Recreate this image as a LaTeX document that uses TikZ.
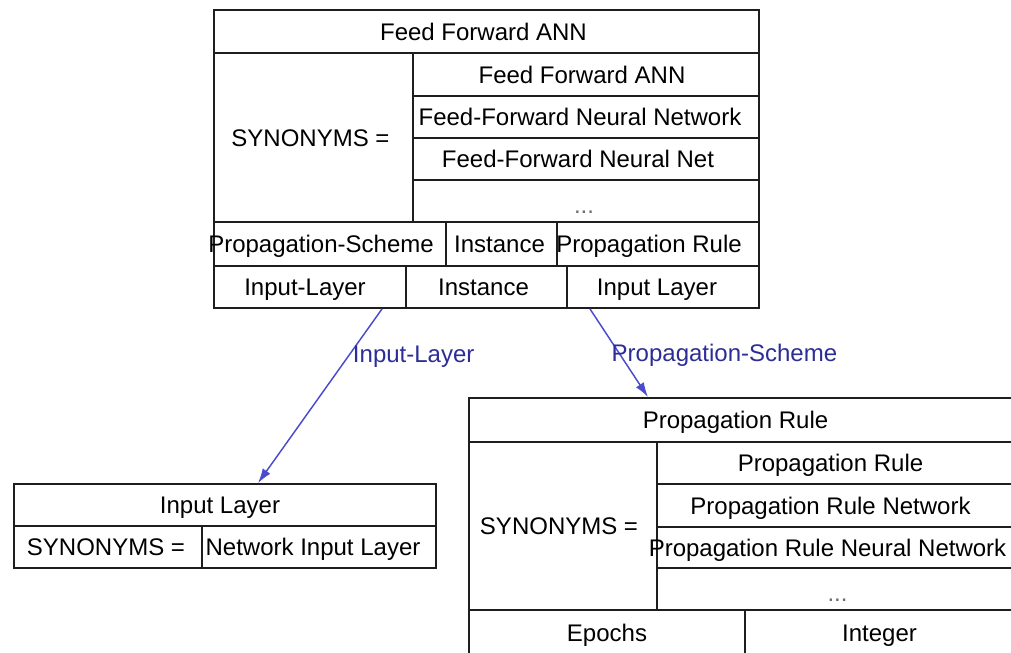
\documentclass[tikz,border=0pt]{standalone}
\usepackage{fontspec}
\setmainfont{Liberation Sans}
\usetikzlibrary{arrows.meta}

\definecolor{framecol}{RGB}{30,30,30}
\definecolor{linkcol}{RGB}{75,75,205}
\definecolor{linklabel}{RGB}{45,45,150}
\definecolor{dotcol}{RGB}{110,110,110}

% one pixel of the drawing grid
\newdimen\pxu
\pxu=0.75pt

% table cell: name, left, top, right, bottom (pixels), text offset (pixels), text
\newcommand{\tcell}[7]{%
  \node[cell, minimum width={(#4-#2)*0.75pt}, minimum height={(#5-#3)*0.75pt}]
    (#1) at ({(#2+#4)/2},{(#3+#5)/2}) {\makebox[0pt]{\kern#6\pxu #7\kern-#6\pxu}};}

% continuation mark in the synonym lists
\newcommand{\moredots}{\raisebox{-4\pxu}[0pt][0pt]{\textcolor{dotcol}{...}}}

\tikzset{
  cell/.style={draw=framecol, line width=1.4pt, rectangle, inner sep=0pt,
    font=\fontsize{18pt}{20pt}\selectfont, text height=12.9pt, text depth=0pt},
  link/.style={draw=linkcol, line width=1.1pt,
    -{Latex[length=11pt, width=7pt, fill=linkcol]}},
  linklab/.style={text=linklabel, inner sep=0pt,
    font=\fontsize{18pt}{20pt}\selectfont, text height=12.9pt, text depth=0pt}
}

\begin{document}
\begin{tikzpicture}[x=0.75pt, y=-0.75pt]
  \useasboundingbox (0,0) rectangle (1011,653);
  \fill[white] (0,0) rectangle (1011,653);

  % Feed Forward ANN
  \tcell{tTitle}{214}{10}{759}{53}{-3}{Feed Forward ANN}
  \tcell{tSyn}{214}{53}{413}{222}{-3}{SYNONYMS =}
  \tcell{tS1}{413}{53}{759}{96}{-4}{Feed Forward ANN}
  \tcell{tS2}{413}{96}{759}{138}{-6}{Feed-Forward Neural Network}
  \tcell{tS3}{413}{138}{759}{180}{-8}{Feed-Forward Neural Net}
  \tcell{tS4}{413}{180}{759}{222}{-2}{\moredots}
  \tcell{tPS}{214}{222}{446}{266}{-9}{Propagation-Scheme}
  \tcell{tInstA}{446}{222}{557}{266}{-2}{Instance}
  \tcell{tPR}{557}{222}{759}{266}{-9}{Propagation Rule}
  \tcell{tIL}{214}{266}{406}{308}{-5}{Input-Layer}
  \tcell{tInstB}{406}{266}{567}{308}{-3}{Instance}
  \tcell{tILy}{567}{266}{759}{308}{-6}{Input Layer}

  % Input Layer
  \tcell{lT}{14}{484}{436}{526}{-5}{Input Layer}
  \tcell{lSyn}{14}{526}{202}{568}{-2}{SYNONYMS =}
  \tcell{lNet}{202}{526}{436}{568}{-6}{Network Input Layer}

  % Propagation Rule
  \tcell{rT}{469}{398}{1014}{442}{-6}{Propagation Rule}
  \tcell{rSyn}{469}{442}{657}{610}{-4}{SYNONYMS =}
  \tcell{rS1}{657}{442}{1014}{484}{-5}{Propagation Rule}
  \tcell{rS2}{657}{484}{1014}{527}{-5}{Propagation Rule Network}
  \tcell{rS3}{657}{527}{1014}{568}{-8}{Propagation Rule Neural Network}
  \tcell{rS4}{657}{568}{1014}{610}{2}{\moredots}
  \tcell{rEp}{469}{610}{745}{656}{0}{Epochs}
  \tcell{rInt}{745}{610}{1014}{656}{0}{Integer}

  % relations
  \draw[link] ([xshift={72*0.75pt}]tIL.south)
    -- node[linklab, pos=0.26, anchor=west, xshift={2.5*0.75pt}] {Input-Layer}
    ([xshift={33*0.75pt}]lT.north);
  \draw[link] ([xshift={-73*0.75pt}]tILy.south)
    -- node[linklab, pos=0.5, anchor=west, xshift={-8*0.75pt}] {Propagation-Scheme}
    ([xshift={-93.5*0.75pt}]rT.north);
\end{tikzpicture}
\end{document}
